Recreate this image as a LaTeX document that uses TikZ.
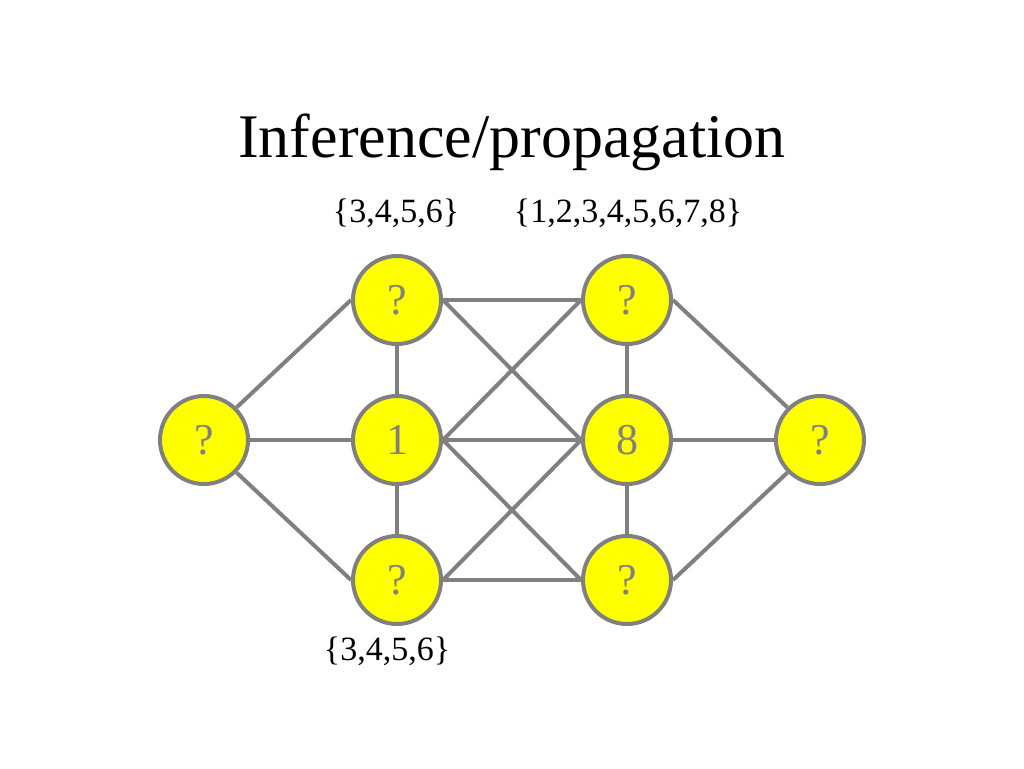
\documentclass[tikz,border=0pt]{standalone}
\usepackage{fontspec}
\setmainfont{Liberation Serif}
\definecolor{edgegray}{HTML}{808080}
\definecolor{nodeyellow}{HTML}{FFFF00}
\tikzset{
  var/.style={circle, draw=edgegray, fill=nodeyellow, line width=4pt, minimum size=88pt, inner sep=0pt,
    text=edgegray, font=\fontsize{44}{44}\selectfont},
  link/.style={draw=edgegray, line width=4pt},
  lbl/.style={font=\fontsize{34}{34}\selectfont, anchor=base, inner sep=0pt},
}
\begin{document}
\begin{tikzpicture}[x=1pt,y=-1pt]
\useasboundingbox (0,0) rectangle (1024,768);
\node[font=\fontsize{62}{62}\selectfont, anchor=base, inner sep=0pt] (title) at (512,157) {Inference/propagation};
\node[lbl] (lt) at (396,222) {\{3,4,5,6\}};
\node[lbl] (lm) at (628,222) {\{1,2,3,4,5,6,7,8\}};
\node[lbl] (lb) at (387,660) {\{3,4,5,6\}};

\node[var] (L) at (204,440) {?};
\node[var] (A1) at (397,300) {?};
\node[var] (A2) at (397,440) {1};
\node[var] (A3) at (397,580) {?};
\node[var] (B1) at (627,300) {?};
\node[var] (B2) at (627,440) {8};
\node[var] (B3) at (627,580) {?};
\node[var] (R) at (820,440) {?};

\draw[link] (L.north east) -- (A1.west);
\draw[link] (L.east) -- (A2.west);
\draw[link] (L.south east) -- (A3.west);
\draw[link] (A1.south) -- (A2.north);
\draw[link] (A2.south) -- (A3.north);
\draw[link] (A1.east) -- (B1.west);
\draw[link] (A1.east) -- (B2.west);
\draw[link] (A2.east) -- (B1.west);
\draw[link] (A2.east) -- (B2.west);
\draw[link] (A2.east) -- (B3.west);
\draw[link] (A3.east) -- (B2.west);
\draw[link] (A3.east) -- (B3.west);
\draw[link] (B1.south) -- (B2.north);
\draw[link] (B2.south) -- (B3.north);
\draw[link] (B1.east) -- (R.north west);
\draw[link] (B2.east) -- (R.west);
\draw[link] (B3.east) -- (R.south west);
\end{tikzpicture}
\end{document}
